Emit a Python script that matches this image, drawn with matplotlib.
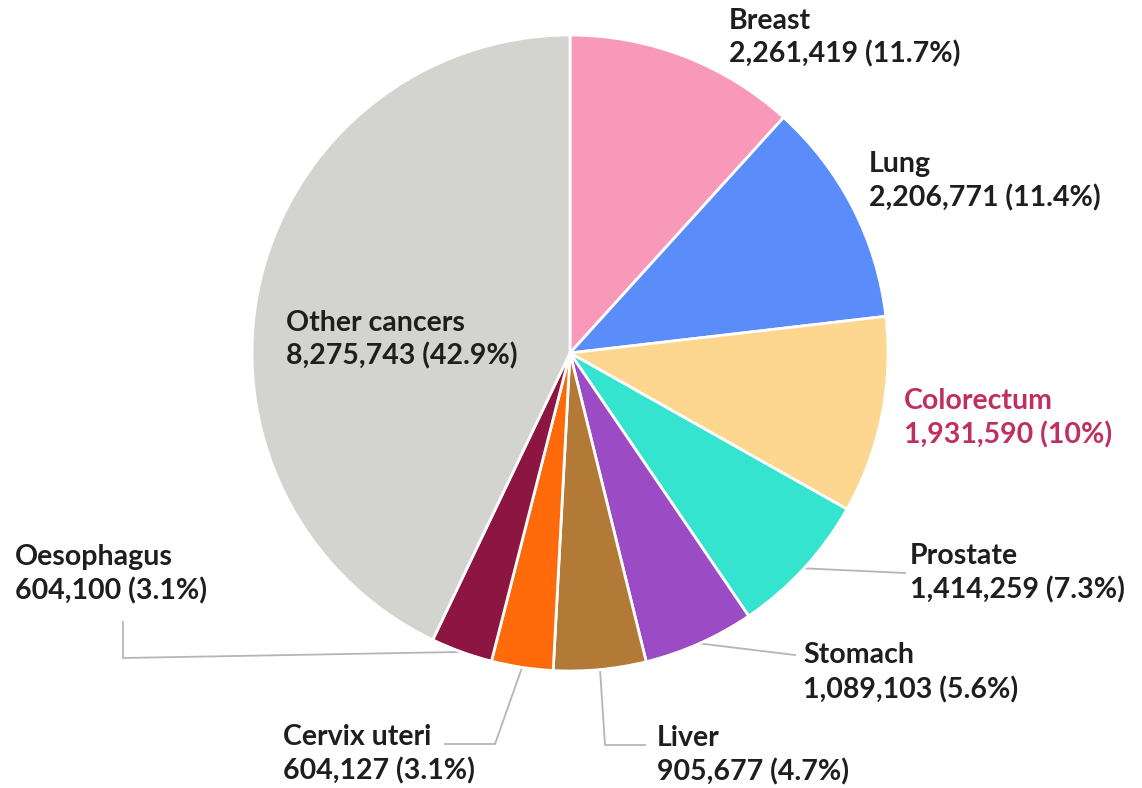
import numpy as np
import matplotlib
matplotlib.use('Agg')
import matplotlib.pyplot as plt

# data
sites = ['Breast', 'Lung', 'Colorectum', 'Prostate', 'Stomach', 'Liver',
         'Cervix uteri', 'Oesophagus', 'Other cancers']
cases = [2261419, 2206771, 1931590, 1414259, 1089103, 905677, 604127, 604100, 8275743]
pct_labels = ['11.7%', '11.4%', '10%', '7.3%', '5.6%', '4.7%', '3.1%', '3.1%', '42.9%']

colors = ['#F899B9', '#5B8DFA', '#FDD78F', '#35E4CF', '#9B4CC5', '#B27A36',
          '#FF6B0B', '#8D1541', '#D3D4CF']

W, H = 1142, 788
cx, cy, R = 570, 353, 318   # pie centre / radius in pixels (y down)

fig = plt.figure(figsize=(W / 100, H / 100), dpi=100)
ax = fig.add_axes([0, 0, 1, 1])
ax.set_xlim(0, W)
ax.set_ylim(0, H)
ax.set_aspect('equal')
ax.axis('off')

wedges, _ = ax.pie(cases, colors=colors, startangle=90, counterclock=False,
                   center=(cx, H - cy), radius=R,
                   wedgeprops=dict(edgecolor='white', linewidth=2))
ax.set_xlim(0, W)
ax.set_ylim(0, H)

# label positions (left x, line-1 y, line-2 y) in pixels from top
label_pos = {
    'Breast': (729, 21, 54),
    'Lung': (869, 164, 198),
    'Colorectum': (904, 401, 435),
    'Prostate': (910, 556, 590),
    'Stomach': (803, 655, 690),
    'Liver': (657, 738, 772),
    'Cervix uteri': (283, 737, 771),
    'Oesophagus': (15, 557, 591),
    'Other cancers': (286, 323, 356),
}

font = dict(family=['Lato', 'DejaVu Sans'], fontsize=20.5, fontweight='bold')
for name, n, p in zip(sites, cases, pct_labels):
    x, y1, y2 = label_pos[name]
    col = '#C0305F' if name == 'Colorectum' else '#1E1E1E'
    ax.text(x, H - y1, name, color=col, va='center', ha='left', **font)
    ax.text(x, H - y2, f'{n:,} ({p})', color=col, va='center', ha='left', **font)


def edge_point(w):
    ang = np.deg2rad((w.theta1 + w.theta2) / 2)
    return w.center[0] + R * np.cos(ang), w.center[1] + R * np.sin(ang)


# leader lines: bends after the wedge edge point (pixels, y down)
leaders = {
    'Prostate': [(905, 573)],
    'Stomach': [(795, 655)],
    'Liver': [(605, 745), (645, 745)],
    'Cervix uteri': [(495, 744), (445, 744)],
    'Oesophagus': [(123, 658), (123, 622)],
}
for w, name in zip(wedges, sites):
    if name not in leaders:
        continue
    x0, y0 = edge_point(w)
    xs = [x0] + [p[0] for p in leaders[name]]
    ys = [y0] + [H - p[1] for p in leaders[name]]
    ax.plot(xs, ys, color='#B5B5B5', linewidth=1.3, zorder=0)

fig.savefig('out.png', dpi=100, facecolor='white')
